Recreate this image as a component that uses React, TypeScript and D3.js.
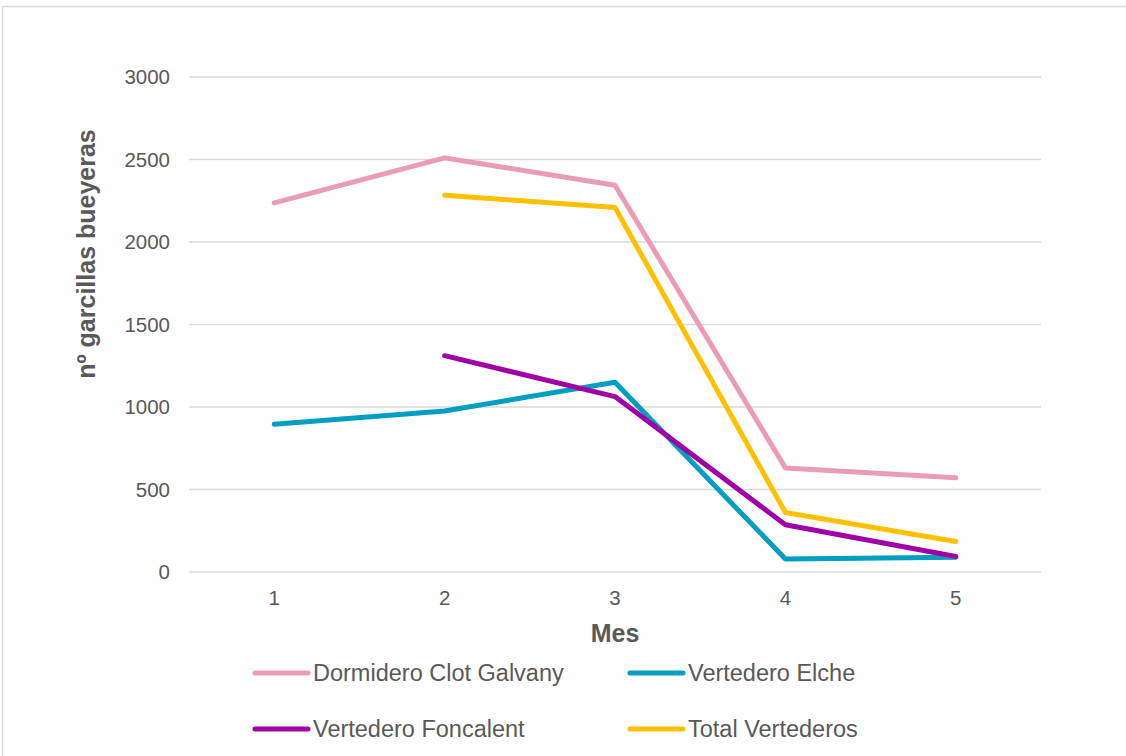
import { line as d3Line, scaleLinear, scalePoint } from "d3";

type Series = {
  name: string;
  color: string;
  values: (number | null)[];
};

const months = ["1", "2", "3", "4", "5"];
const yTicks = [0, 500, 1000, 1500, 2000, 2500, 3000];

const dormidero = [2237, 2510, 2344, 631, 571];
const elche = [896, 976, 1150, 79, 90];
const foncalent = [null, 1311, 1063, 286, 94];
const totalVertederos = [null, 2284, 2209, 361, 185];

const series: Series[] = [
  { name: "Dormidero Clot Galvany", color: "#EA9BB7", values: dormidero },
  { name: "Vertedero Elche", color: "#009EC1", values: elche },
  { name: "Vertedero Foncalent", color: "#A000A6", values: foncalent },
  { name: "Total Vertederos", color: "#FFC000", values: totalVertederos },
];

const WIDTH = 1126;
const HEIGHT = 756;
const PLOT = { left: 189, right: 1041, top: 77, bottom: 572 };
const FONT = "'Liberation Sans', Arial, sans-serif";
const TEXT = "#595959";

export default function App() {
  const x = scalePoint<string>()
    .domain(months)
    .range([PLOT.left, PLOT.right])
    .padding(0.5);
  const y = scaleLinear().domain([0, 3000]).range([PLOT.bottom, PLOT.top]);

  const lineGen = d3Line<number | null>()
    .defined((d) => d !== null)
    .x((_, i) => x(months[i]) ?? 0)
    .y((d) => y(d ?? 0));

  const legendCols = [255, 630];
  const legendRows = [673, 729];

  return (
    <svg
      width={WIDTH}
      height={HEIGHT}
      style={{ position: "absolute", left: 0, top: 0, background: "#fff" }}
      fontFamily={FONT}
    >
      <rect x={2.5} y={6.5} width={1140} height={770} fill="#fff" stroke="#d9d9d9" strokeWidth={1.5} />

      {yTicks.map((t) => (
        <g key={t}>
          <line x1={PLOT.left} x2={PLOT.right} y1={y(t)} y2={y(t)} stroke="#d9d9d9" strokeWidth={1.3} />
          <text x={170} y={y(t)} dy="0.35em" textAnchor="end" fontSize={20.5} fill={TEXT}>
            {t}
          </text>
        </g>
      ))}

      {months.map((m) => (
        <text key={m} x={x(m)} y={605} textAnchor="middle" fontSize={20.5} fill={TEXT}>
          {m}
        </text>
      ))}

      <text x={615} y={642} textAnchor="middle" fontSize={25} fontWeight="bold" fill={TEXT}>
        Mes
      </text>
      <text
        transform={`translate(95,254) rotate(-90)`}
        textAnchor="middle"
        fontSize={25}
        fontWeight="bold"
        fill={TEXT}
      >
        nº garcillas bueyeras
      </text>

      {series.map((s) => (
        <path
          key={s.name}
          d={lineGen(s.values) ?? ""}
          fill="none"
          stroke={s.color}
          strokeWidth={5}
          strokeLinecap="round"
          strokeLinejoin="round"
        />
      ))}

      {series.map((s, i) => {
        const lx = legendCols[i % 2];
        const ly = legendRows[Math.floor(i / 2)];
        return (
          <g key={s.name}>
            <line x1={lx} x2={lx + 53} y1={ly} y2={ly} stroke={s.color} strokeWidth={5} strokeLinecap="round" />
            <text x={lx + 58} y={ly} dy="0.35em" fontSize={23.5} fill={TEXT}>
              {s.name}
            </text>
          </g>
        );
      })}
    </svg>
  );
}
